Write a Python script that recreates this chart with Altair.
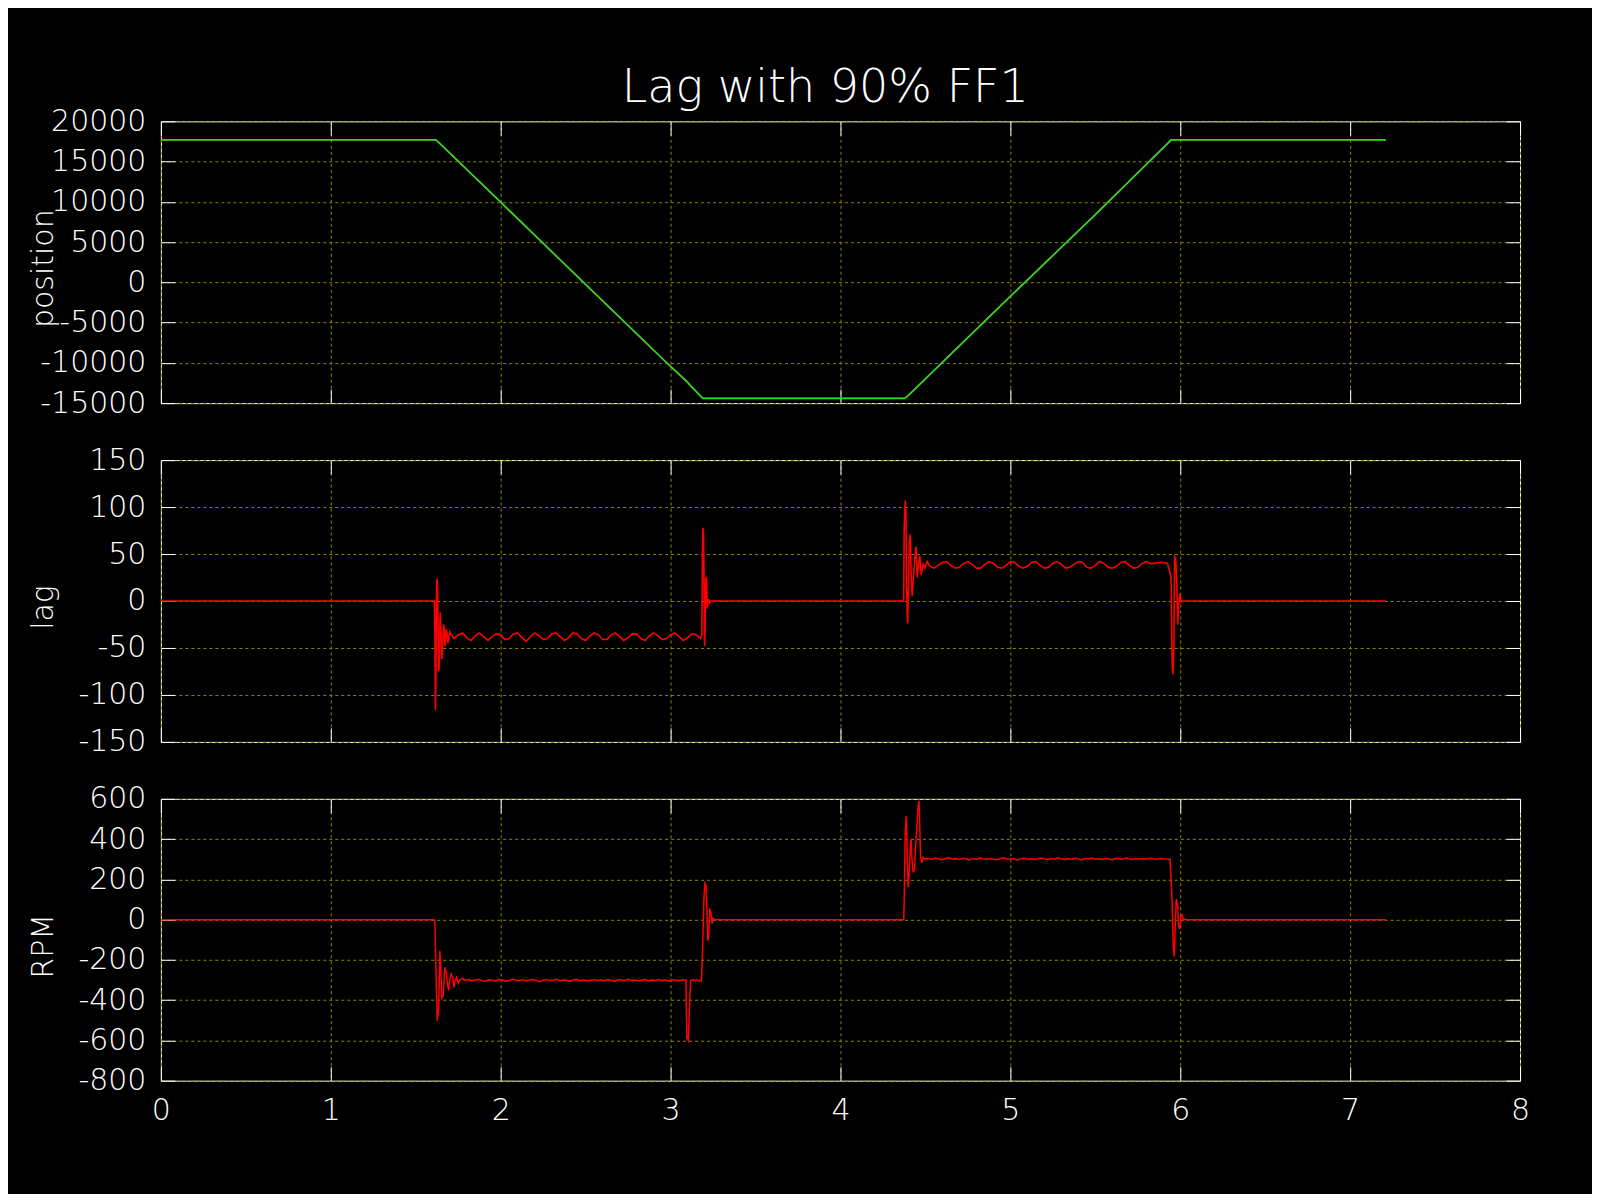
import altair as alt
import pandas as pd

# ---------------- data ----------------
# position (counts): red = command, green = actual
pos_t = [0.0, 1.617, 1.640, 2.0, 2.5, 3.0, 3.100, 3.120, 3.190, 4.380, 4.400, 5.0, 5.5, 5.947, 7.21]
pos_cmd = [17700, 17700, 17260, 9910, -290, -10490, -12440, -12940, -14400, -14400, -14010, -1710, 8440, 17700, 17700]
pos_act = [17700, 17700, 17300, 9950, -250, -10450, -12400, -12900, -14400, -14400, -14050, -1750, 8400, 17700, 17700]

# lag (counts)
lag_t0 = [0.0, 1.610]
lag_v0 = [0, 0]
lag_t1 = [1.613, 1.616, 1.619, 1.622, 1.625, 1.628, 1.631, 1.634, 1.637, 1.640, 1.644, 1.648,
          1.652, 1.656, 1.660, 1.664, 1.668, 1.672, 1.676, 1.680, 1.685, 1.690, 1.695, 1.700]
lag_v1 = [-43, -116, -76, 0, 24, 20, -25, -75, -72, -40, -12, -28,
          -62, -58, -40, -25, -30, -48, -42, -30, -35, -45, -38, -33]
lag_desc_start, lag_desc_step = 1.725, 0.025
lag_desc = [-40, -36, -34, -39, -42, -37, -34, -38, -42, -38,
            -35, -36, -41, -40, -35, -34, -39, -43, -38, -34,
            -37, -41, -40, -35, -34, -38, -42, -39, -34, -35,
            -40, -42, -37, -34, -36, -41, -41, -36, -34, -38,
            -42, -39, -35, -35, -40, -42, -37, -34, -37, -41,
            -40, -36, -34, -38, -42, -39, -35, -36, -40]
lag_t2 = [3.184, 3.188, 3.191, 3.194, 3.197, 3.200, 3.203, 3.206, 3.209, 3.212, 3.216, 3.220, 3.224, 3.230, 3.240, 4.372]
lag_v2 = [-36, 58, 78, 72, 20, -48, -30, 15, 26, 22, -8, -3, 2, -2, 0, 0]
lag_t3 = [4.375, 4.381, 4.385, 4.389, 4.395, 4.401, 4.405, 4.411, 4.416, 4.422, 4.428, 4.438,
          4.444, 4.452, 4.460, 4.467, 4.475, 4.487, 4.497, 4.510]
lag_v3 = [76, 107, 96, 16, -24, 20, 62, 71, 27, 5, 21, 47, 58, 25, 39, 48, 28, 39, 35, 42]
lag_asc_start, lag_asc_step = 4.525, 0.025
lag_asc = [37, 35, 38, 41, 42, 38, 35, 36, 40, 42,
           39, 35, 35, 39, 42, 40, 36, 35, 38, 42,
           41, 37, 35, 37, 41, 42, 38, 35, 36, 40,
           42, 39, 35, 36, 39, 42, 41, 36, 35, 38,
           42, 40, 36, 35, 37, 41, 42, 38, 35, 36,
           40, 42, 40, 40, 41, 41, 40]
lag_t4 = [5.946, 5.950, 5.953, 5.957, 5.962, 5.967, 5.973, 5.979, 5.985, 5.991, 5.997, 6.004, 6.012, 7.21]
lag_v4 = [25, -40, -69, -78, -50, 47, 45, 21, -25, -5, 8, -1, 0, 0]

# RPM
rpm_t0 = [0.0, 1.610]
rpm_v0 = [0, 0]
rpm_t1 = [1.613, 1.619, 1.627, 1.635, 1.642, 1.648, 1.654, 1.662, 1.671, 1.679, 1.687,
          1.693, 1.701, 1.709, 1.717, 1.725, 1.732, 1.740, 1.750, 1.760, 1.775]
rpm_v1 = [-27, -259, -503, -444, -155, -259, -390, -378, -237, -262, -320,
          -353, -295, -270, -287, -337, -301, -287, -317, -301, -292]
rpm_desc_start, rpm_desc_step = 1.79, 0.02
rpm_desc = [-302, -298, -305, -300, -296, -303, -307, -299, -301, -304,
            -297, -300, -306, -302, -295, -301, -303, -299, -305, -300,
            -297, -302, -308, -300, -298, -303, -301, -296, -304, -300,
            -302, -306, -299, -297, -303, -300, -305, -301, -298, -302,
            -300, -304, -297, -301, -306, -300, -299, -303, -296, -302,
            -300, -305, -301, -298, -304, -300, -302, -297, -303, -300,
            -306, -299, -301, -304, -300]
rpm_t2 = [3.090, 3.096, 3.104, 3.112, 3.118, 3.130, 3.145, 3.160, 3.173, 3.182, 3.188, 3.196,
          3.202, 3.208, 3.214, 3.219, 3.225, 3.231, 3.239, 3.245, 3.251, 3.261, 4.372]
rpm_v2 = [-300, -588, -601, -428, -303, -298, -302, -300, -308, -303, -166, 102,
          181, 171, 44, -105, -70, 55, 27, -20, 6, 0, 0]
rpm_t3 = [4.375, 4.381, 4.387, 4.389, 4.393, 4.399, 4.404, 4.412, 4.416, 4.420, 4.428, 4.436,
          4.441, 4.448, 4.454, 4.460, 4.462, 4.465, 4.471, 4.479, 4.487, 4.497, 4.506]
rpm_v3 = [89, 425, 516, 483, 292, 160, 218, 375, 400, 309, 234, 251,
          350, 441, 532, 582, 590, 516, 317, 284, 309, 301, 304]
rpm_asc_start, rpm_asc_step = 4.52, 0.02
rpm_asc = [303, 300, 306, 301, 298, 304, 307, 300, 302, 299,
           305, 301, 297, 303, 300, 306, 302, 299, 304, 300,
           298, 303, 307, 301, 300, 304, 297, 302, 305, 300,
           303, 299, 301, 306, 302, 298, 304, 300, 307, 301,
           299, 303, 300, 305, 302, 297, 304, 301, 306, 300,
           302, 299, 304, 301, 298, 305, 303, 300, 306, 302,
           299, 304, 300, 303, 301, 305, 302, 300, 304, 303,
           301]
rpm_t4 = [5.940, 5.951, 5.959, 5.965, 5.971, 5.977, 5.985, 5.990, 5.996, 6.004, 6.012, 6.018, 6.028, 6.040, 7.21]
rpm_v4 = [300, 113, -138, -183, -6, 102, 69, -31, -46, 14, 23, -2, 3, 0, 0]

x_ticks = [0, 1, 2, 3, 4, 5, 6, 7, 8]
pos_ticks = [-15000, -10000, -5000, 0, 5000, 10000, 15000, 20000]
lag_ticks = [-150, -100, -50, 0, 50, 100, 150]
rpm_ticks = [-800, -600, -400, -200, 0, 200, 400, 600]


def sampled(start, step, vals):
    return [round(start + i * step, 4) for i in range(len(vals))]


lag_t = (lag_t0 + lag_t1 + sampled(lag_desc_start, lag_desc_step, lag_desc) + lag_t2
         + lag_t3 + sampled(lag_asc_start, lag_asc_step, lag_asc) + lag_t4)
lag_v = lag_v0 + lag_v1 + lag_desc + lag_v2 + lag_v3 + lag_asc + lag_v4
rpm_t = (rpm_t0 + rpm_t1 + sampled(rpm_desc_start, rpm_desc_step, rpm_desc) + rpm_t2
         + rpm_t3 + sampled(rpm_asc_start, rpm_asc_step, rpm_asc) + rpm_t4)
rpm_v = rpm_v0 + rpm_v1 + rpm_desc + rpm_v2 + rpm_v3 + rpm_asc + rpm_v4

pos_df = pd.DataFrame({"t": pos_t, "cmd": pos_cmd, "act": pos_act})
lag_df = pd.DataFrame({"t": lag_t, "v": lag_v})
rpm_df = pd.DataFrame({"t": rpm_t, "v": rpm_v})

# ---------------- styling ----------------
FONT = "DejaVu Sans Light, DejaVu Sans"
FW = 200
GRID = "#8a8a00"
TICK = 14
W, H = 1360, 282


def x_main(show_xlabels):
    return alt.X("t:Q", scale=alt.Scale(domain=[0, 8], nice=False, zero=False),
                 axis=alt.Axis(orient="bottom", values=x_ticks, grid=True, gridColor=GRID,
                               gridDash=[3, 3], gridWidth=1, domain=False, ticks=True,
                               tickColor="white", tickSize=TICK, tickWidth=1, offset=-TICK,
                               labels=show_xlabels, labelFont=FONT, labelFontWeight=FW,
                               labelFontSize=30, labelColor="white", labelPadding=15,
                               labelFlush=False,
                               labelExpr="toString(datum.value)", title=None))


def y_main(field, ydom, yvals, ytitle):
    return alt.Y(field, scale=alt.Scale(domain=ydom, nice=False, zero=False),
                 axis=alt.Axis(orient="left", values=yvals, grid=True, gridColor=GRID,
                               gridDash=[3, 3], gridWidth=1, domain=False, ticks=True,
                               tickColor="white", tickSize=TICK, tickWidth=1, offset=-TICK,
                               labelFont=FONT, labelFontWeight=FW, labelFontSize=30,
                               labelColor="white", labelPadding=15, labelFlush=False,
                               labelExpr="toString(datum.value)",
                               title=ytitle, titleFont=FONT, titleFontWeight=FW,
                               titleFontSize=30, titleColor="white",
                               titleX=-131, titleY=H / 2 + 6, titleAlign="center",
                               titleBaseline="middle", titleAngle=270))


def x_top():
    return alt.X("t:Q", scale=alt.Scale(domain=[0, 8], nice=False, zero=False),
                 axis=alt.Axis(orient="top", values=x_ticks, grid=False, domain=False,
                               ticks=True, tickColor="white", tickSize=TICK, tickWidth=1,
                               offset=-TICK, labels=False, title=None))


def y_right(field, ydom, yvals):
    return alt.Y(field, scale=alt.Scale(domain=ydom, nice=False, zero=False),
                 axis=alt.Axis(orient="right", values=yvals, grid=False, domain=False,
                               ticks=True, tickColor="white", tickSize=TICK, tickWidth=1,
                               offset=-TICK, labels=False, title=None))


# panel 1: position
p1a = alt.Chart(pos_df).mark_line(color="#ff0000", strokeWidth=1.4).encode(
    x=x_main(False),
    y=y_main("cmd:Q", [-15000, 20000], pos_ticks, "position"),
    order="t:Q")
p1b = alt.Chart(pos_df).mark_line(color="#22dd22", strokeWidth=1.7).encode(
    x=x_top(), y=y_right("act:Q", [-15000, 20000], pos_ticks), order="t:Q")
p1 = alt.layer(p1a, p1b).resolve_axis(x="independent", y="independent").properties(width=W, height=H)

# panel 2: lag
p2a = alt.Chart(lag_df).mark_line(color="#ff0000", strokeWidth=1.6).encode(
    x=x_main(False),
    y=y_main("v:Q", [-150, 150], lag_ticks, "lag"), order="t:Q")
p2b = alt.Chart(lag_df).mark_line(color="#ff0000", strokeWidth=1.6, opacity=0).encode(
    x=x_top(), y=y_right("v:Q", [-150, 150], lag_ticks), order="t:Q")
p2 = alt.layer(p2a, p2b).resolve_axis(x="independent", y="independent").properties(width=W, height=H)

# panel 3: RPM
p3a = alt.Chart(rpm_df).mark_line(color="#ff0000", strokeWidth=1.5).encode(
    x=x_main(True),
    y=y_main("v:Q", [-800, 600], rpm_ticks, "RPM"), order="t:Q")
p3b = alt.Chart(rpm_df).mark_line(color="#ff0000", strokeWidth=1.5, opacity=0).encode(
    x=x_top(), y=y_right("v:Q", [-800, 600], rpm_ticks), order="t:Q")
p3 = alt.layer(p3a, p3b).resolve_axis(x="independent", y="independent").properties(width=W, height=H)

chart = alt.vconcat(p1, p2, p3, spacing=57, bounds="flush").properties(
    title=alt.TitleParams(text="Lag with 90% FF1", font=FONT, fontWeight=FW, fontSize=46,
                          color="white", anchor="middle", dx=46, offset=-6),
    background="black",
    padding={"left": 20, "top": 56, "right": 61, "bottom": 67},
).configure_view(stroke="white", strokeWidth=1)

chart.save("out.html", embed_options={"renderer": "svg", "actions": False})
